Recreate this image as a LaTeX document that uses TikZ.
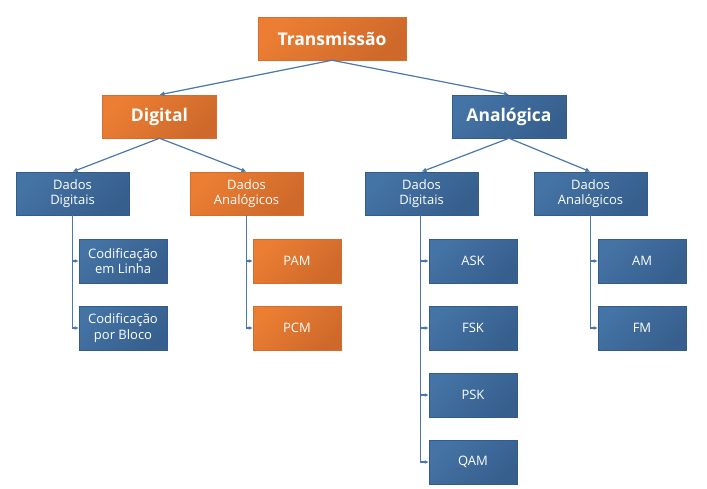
\documentclass[tikz,border=0pt]{standalone}
\usepackage{fontspec}
\setmainfont{Open Sans}
\usetikzlibrary{arrows.meta,shadows}
\definecolor{orL}{HTML}{EC7E33}
\definecolor{orD}{HTML}{CE692B}
\definecolor{orB}{HTML}{D56D2C}
\definecolor{blL}{HTML}{4473A5}
\definecolor{blD}{HTML}{365F8D}
\definecolor{blB}{HTML}{335C88}
\definecolor{lnC}{HTML}{4A78AC}
\begin{document}
\begin{tikzpicture}[x=1pt,y=-1pt,
 box/.style={draw, line width=0.5pt, minimum height=43pt, inner sep=0pt, align=center, text=white,
   font=\fontsize{13}{15.5}\selectfont,
   drop shadow={opacity=0.22,shadow xshift=0.8pt,shadow yshift=-1.2pt}},
 orbox/.style={box, draw=orB, top color=orL, bottom color=orD, shading angle=45},
 blbox/.style={box, draw=blB, top color=blL, bottom color=blD, shading angle=45},
 big/.style={minimum width=114pt, font=\bfseries\fontsize{17.5}{20}\selectfont},
 mid/.style={minimum width=113pt},
 small/.style={minimum width=88pt, minimum height=44pt},
 conn/.style={draw=lnC, line width=1.2pt, -{Latex[length=5pt,width=5pt]}},
 sconn/.style={draw=lnC, line width=1.2pt, -{Latex[length=4pt,width=4pt]}}
]
\useasboundingbox (0,0) rectangle (707,488);
\node[orbox,big,minimum width=148pt] (t) at (332,38.5) {Transmissão};
\node[orbox,big] (d) at (159.5,116.5) {Digital};
\node[blbox,big] (a) at (509,116.5) {Analógica};
\node[blbox,mid] (dd) at (72.5,193.5) {Dados\\Digitais};
\node[orbox,mid] (da) at (246.5,193.5) {Dados\\Analógicos};
\node[blbox,small] (c1) at (123,261) {Codificação\\em Linha};
\node[blbox,small] (c2) at (123,328) {Codificação\\por Bloco};
\node[orbox,small] (pam) at (297,261) {PAM};
\node[orbox,small] (pcm) at (297,328) {PCM};
\node[blbox,mid] (rd) at (421.5,193.5) {Dados\\Digitais};
\node[blbox,mid] (ra) at (590.5,193.5) {Dados\\Analógicos};
\node[blbox,small] (ask) at (473,261) {ASK};
\node[blbox,small] (fsk) at (473,328) {FSK};
\node[blbox,small] (psk) at (473,395) {PSK};
\node[blbox,small] (qam) at (473,462) {QAM};
\node[blbox,small] (am) at (642,261) {AM};
\node[blbox,small] (fm) at (642,328) {FM};
\draw[conn] (t.south) -- (d.north);
\draw[conn] (t.south) -- (a.north);
\draw[conn] (d.south) -- (dd.north);
\draw[conn] (d.south) -- (da.north);
\draw[conn] (a.south) -- (rd.north);
\draw[conn] (a.south) -- (ra.north);
\draw[sconn] (dd.south) |- (c1.west);
\draw[sconn] (dd.south) |- (c2.west);
\draw[sconn] (da.south) |- (pam.west);
\draw[sconn] (da.south) |- (pcm.west);
\draw[sconn] ([xshift=-1pt]rd.south) |- (ask.west);
\draw[sconn] ([xshift=-1pt]rd.south) |- (fsk.west);
\draw[sconn] ([xshift=-1pt]rd.south) |- (psk.west);
\draw[sconn] ([xshift=-1pt]rd.south) |- (qam.west);
\draw[sconn] (ra.south) |- (am.west);
\draw[sconn] (ra.south) |- (fm.west);
\end{tikzpicture}
\end{document}
